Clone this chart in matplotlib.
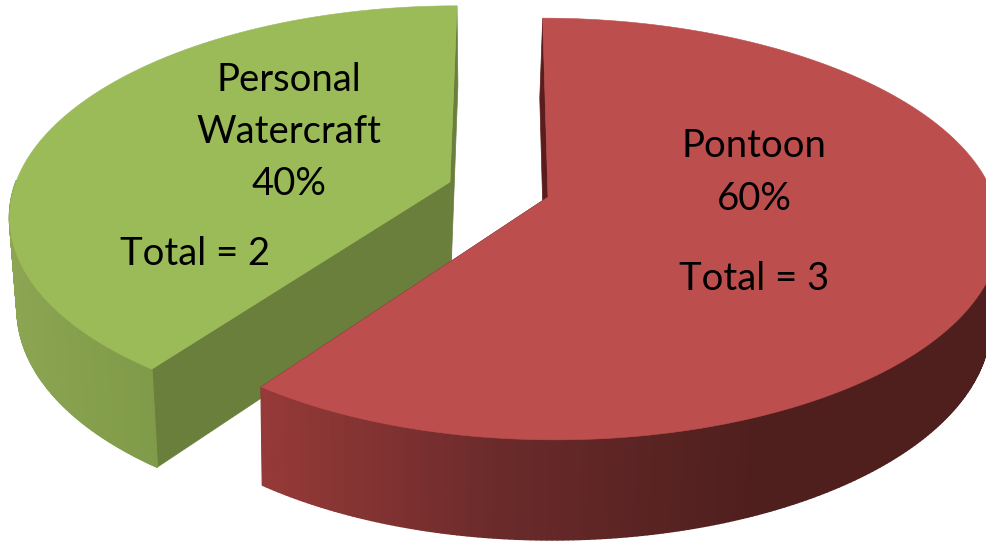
import numpy as np
import matplotlib
matplotlib.use("Agg")
import matplotlib.pyplot as plt
from matplotlib.collections import PolyCollection
from matplotlib.colors import LinearSegmentedColormap
from matplotlib.patches import Polygon

categories = ["Pontoon", "Personal\nWatercraft"]
values = [3, 2]
top_colors = ["#bc4f4d", "#9bbb59"]
inner_colors = ["#5a1c1c", "#6b7f3c"]
outer_stops = [["#4f1f1e", "#4f1f1e", "#6a2a2a", "#963a38"],
               ["#7d9846", "#7d9846", "#7f9a48", "#8ba552"]]

K, P = 206.0, 0.1517


def project(theta, cx, cy, skew, ky, r_mid, r_lean):
    u, v = np.sin(theta), np.cos(theta)
    w = 1 + P * v
    y = -K * ky * v / w
    x = (r_mid + r_lean * u) * u / w - skew * y
    return cx + x, cy + y, v


def lower(x, y, v, cx, dx):
    return cx + dx + (x - cx) * 0.985, y + 90 - 10 * v


def draw_wedge(ax, a0, a1, cx, cy, skew, ky, r_mid, r_lean, dx, top, inner, stops):
    th = np.linspace(a0, a1, 361)
    x, y, v = project(th, cx, cy, skew, ky, r_mid, r_lean)
    xl, yl = lower(x, y, v, cx, dx)
    ax_ap = (cx + dx, cy + 90)
    # inner walls
    for i in (0, -1):
        ax.add_patch(Polygon([(cx, cy), (x[i], y[i]), (xl[i], yl[i]), ax_ap],
                             fc=inner, ec=inner, lw=0.5))
    # outer wall, shaded across its width; only the near half can be seen
    cmap = LinearSegmentedColormap.from_list("w", stops)
    polys, cols = [], []
    xmin, xmax = x.min(), x.max()
    front = [i for i in range(len(th) - 1) if v[i] < 0]
    for i in front:
        polys.append([(x[i], y[i]), (x[i + 1], y[i + 1]),
                      (xl[i + 1], yl[i + 1]), (xl[i], yl[i])])
        cols.append(cmap((xmax - x[i]) / (xmax - xmin)))
    ax.add_collection(PolyCollection(polys, facecolors=cols, edgecolors=cols, linewidths=1.2))
    ax.add_patch(Polygon(np.r_[[(cx, cy)], np.c_[x, y]], fc=top, ec=top, lw=0.4))


fig = plt.figure(figsize=(9.87, 5.41), dpi=100)
ax = fig.add_axes([0, 0, 1, 1])
ax.set_xlim(0, 987)
ax.set_ylim(541, 0)
ax.axis("off")

shares = np.array(values) / sum(values)
edges = np.r_[0, np.cumsum(shares)] * 2 * np.pi

# green piece sits behind the red one
draw_wedge(ax, edges[1], edges[2], 450, 182, 7 / 176, 0.985, 434, 0, 1,
           top_colors[1], inner_colors[1], outer_stops[1])
draw_wedge(ax, edges[0], edges[1], 548, 197, -5.3 / 179, 1.0, 440, 6, -3,
           top_colors[0], inner_colors[0], outer_stops[0])

font = dict(family="Lato", fontsize=27.5, color="black", ha="center", va="center")
ax.text(754, 146, categories[0], **font)
ax.text(754, 199, f"{shares[0]:.0%}", **font)
ax.text(754, 279, f"Total = {values[0]}", **font)
name1, name2 = categories[1].split("\n")
ax.text(289, 80, name1, **font)
ax.text(289, 132, name2, **font)
ax.text(289, 184, f"{shares[1]:.0%}", **font)
ax.text(195, 254, f"Total = {values[1]}", **font)

fig.savefig("out.png", dpi=100)
